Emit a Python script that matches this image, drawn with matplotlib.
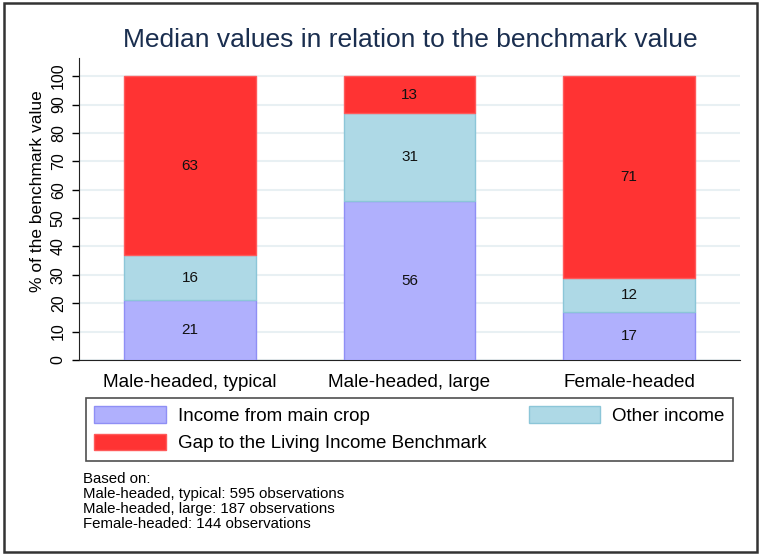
import numpy as np
import matplotlib.pyplot as plt
from matplotlib.patches import Rectangle, Patch

plt.rcParams['font.family'] = ['Liberation Sans', 'DejaVu Sans']

# data
groups = ['Male-headed, typical', 'Male-headed, large', 'Female-headed']
main_crop = [21, 56, 17]
other_income = [16, 31, 12]
gap = [63, 13, 71]
series_names = ['Income from main crop', 'Other income', 'Gap to the Living Income Benchmark']
obs = [595, 187, 144]

face_cols = ['#b0b0fd', '#aed9e6', '#ff3333']
edge_cols = ['#8f8ff5', '#8cc6d8', '#ff5a5a']

fig = plt.figure(figsize=(7.61, 5.55), dpi=100)
ax = fig.add_axes([79 / 761, 1 - 360 / 555, (740 - 79) / 761, (360 - 58) / 555])

x = np.arange(len(groups))
w = 0.6
bottom = np.zeros(len(groups))
for vals, fc, ec in zip([main_crop, other_income, gap], face_cols, edge_cols):
    vals = np.array(vals, dtype=float)
    ax.bar(x, vals, w, bottom=bottom, color=fc, edgecolor=ec, linewidth=1, zorder=3)
    for xi, b, v in zip(x, bottom, vals):
        ax.text(xi, b + v / 2, f'{v:.0f}', ha='center', va='center', fontsize=11, color='#111111', zorder=4)
    bottom += vals

ax.set_xlim(-0.505, 2.505)
ax.set_ylim(0, 106.4)
ax.set_yticks(np.arange(0, 101, 10))
ax.set_yticklabels([str(t) for t in range(0, 101, 10)], rotation=90, va='center', fontsize=11.5)
ax.set_xticks(x)
ax.set_xticklabels(groups, fontsize=13.6)
ax.tick_params(axis='x', length=0, pad=10)
ax.tick_params(axis='y', length=5, width=1, pad=4.5)
ax.grid(axis='y', color='#e8f0f3', linewidth=1.5, zorder=0)
for s in ['top', 'right']:
    ax.spines[s].set_visible(False)
ax.spines['left'].set_color('#222222')
ax.spines['bottom'].set_color('#222222')
ax.set_ylabel('% of the benchmark value', fontsize=12.5)
ax.yaxis.set_label_coords(-0.051, 0.56)

fig.text(410 / 761, 1 - 40 / 555, 'Median values in relation to the benchmark value',
         ha='center', va='center', fontsize=19, color='#1a2e4f')

# legend
handles = [Patch(facecolor=fc, edgecolor=ec) for fc, ec in zip(face_cols, edge_cols)]
order = [0, 2, 1]
leg = fig.legend([handles[i] for i in order], [series_names[i] for i in order],
                 ncol=2, loc='upper left', bbox_to_anchor=(86 / 761, 1 - 398 / 555),
                 fontsize=13.5, frameon=True, fancybox=False, edgecolor='#222222',
                 handlelength=3.8, handleheight=1.0, borderpad=0.45, labelspacing=0.45, handletextpad=0.65,
                 columnspacing=2.25, borderaxespad=0)
leg.get_frame().set_linewidth(1.2)

note = 'Based on:\n' + '\n'.join(f'{g}: {n} observations' for g, n in zip(groups, obs))
fig.text(83 / 761, 1 - 472 / 555, note, ha='left', va='top', fontsize=10.8, linespacing=1.09)

fig.patches.append(Rectangle((4 / 761, 3 / 555), 753 / 761, 549 / 555, transform=fig.transFigure,
                             fill=False, edgecolor='#333333', linewidth=1.8))

fig.savefig('out.png', dpi=100)
